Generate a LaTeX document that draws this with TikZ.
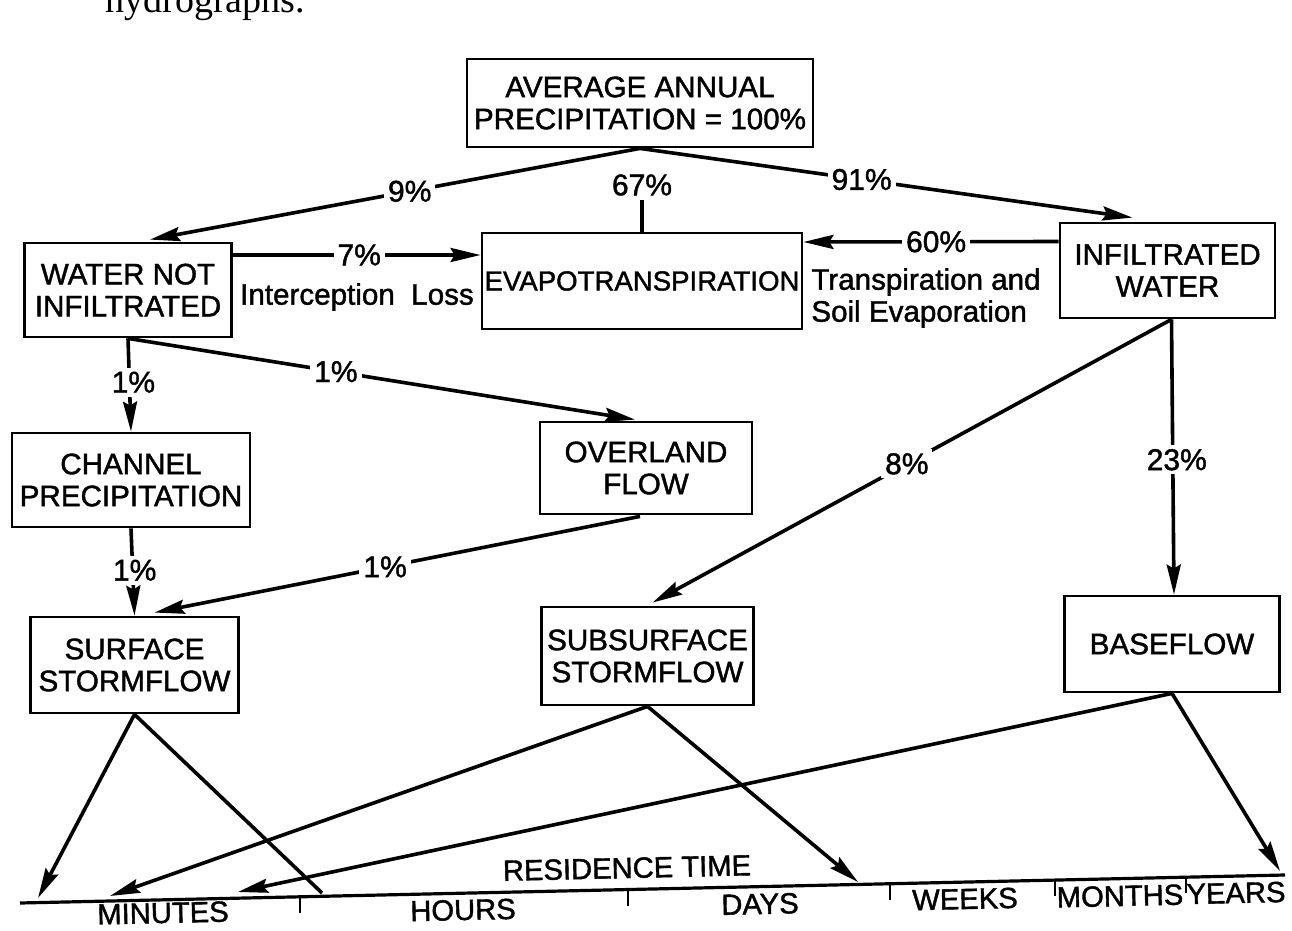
\documentclass[tikz,border=0pt]{standalone}
\usepackage{fontspec}
\setmainfont{Liberation Sans}[FakeBold=1.4]
\newfontfamily\hydfont{Liberation Serif}
\usetikzlibrary{arrows.meta}
\usetikzlibrary{calc}

\tikzset{
  box/.style={draw, line width=1.4pt, align=center, inner sep=0pt, font=\fontsize{14.8}{16}\selectfont},
  flow/.style={line width=1.8pt, -{Stealth[length=15pt,width=7pt,inset=2pt]}},
  lnk/.style={line width=1.8pt},
  pct/.style={fill=white, inner sep=2pt, font=\fontsize{15}{16}\selectfont},
  note/.style={inner sep=0.75pt, align=left, font=\fontsize{14.8}{16}\selectfont},
  tlabel/.style={inner sep=0.75pt, rotate=1.3, font=\fontsize{14.6}{16}\selectfont},
}

\begin{document}
\begin{tikzpicture}[x=0.5pt,y=0.5pt,yscale=-1,xscale=1]
\clip (0,0) rectangle (1292,931);
% Text Node (cut off line above the figure)
\draw (105,13) node [anchor=base west] [inner sep=0pt, font=\hydfont\fontsize{19}{20}\selectfont] (frag) {hydrographs.};
% Boxes
\draw (640,103) node [box, minimum width=173pt, minimum height=44pt] (avg) {AVERAGE ANNUAL\\PRECIPITATION = 100\%};
\draw (128,290) node [box, minimum width=103.5pt, minimum height=47pt] (wni) {WATER NOT\\INFILTRATED};
\draw (642,281) node [box, minimum width=160pt, minimum height=48pt, font=\fontsize{13.8}{16}\selectfont] (evap) {EVAPOTRANSPIRATION};
\draw (1167.5,270.5) node [box, minimum width=107.5pt, minimum height=47.5pt] (infil) {INFILTRATED\\WATER};
\draw (131,480) node [box, minimum width=119pt, minimum height=47pt] (chan) {CHANNEL\\PRECIPITATION};
\draw (646,468) node [box, minimum width=106pt, minimum height=46pt] (over) {OVERLAND\\FLOW};
\draw (134.5,665) node [box, minimum width=104pt, minimum height=48pt] (surf) {SURFACE\\STORMFLOW};
\draw (647.5,656) node [box, minimum width=106pt, minimum height=49pt] (subs) {SUBSURFACE\\STORMFLOW};
\draw (1172,644) node [box, minimum width=107.5pt, minimum height=48pt] (base) {BASEFLOW};

%Straight Lines from precipitation
\draw [flow] (avg.south) -- ($(wni.north)+(22,-2)$) node [pct, pos=0.47] (p9) {9\%};
\draw [flow] (avg.south) -- ($(infil.north)+(-35,-4)$) node [pct, pos=0.45] (p91) {91\%};
\draw (642,185) node [pct] (p67) {67\%};
\draw [lnk] (p67.south) -- (evap.north);
%Straight Lines to evapotranspiration
\draw [flow] ($(wni.east)+(0,-35)$) -- ($(evap.west)+(0,-26)$) node [pct, pos=0.51] (p7) {7\%};
\draw [flow] ($(infil.west)+(0,-29)$) -- ($(evap.east)+(0,-39)$) node [pct, pos=0.48] (p60) {60\%};
% Text Node
\draw (357,297) node [note] (intc) {Interception\ \ Loss};
% Text Node
\draw (926,298) node [note] (trans) {Transpiration and\\Soil Evaporation};

%Straight Lines from water not infiltrated
\draw [flow] (wni.south) -- (chan.north) node [pct, pos=0.47, xshift=2pt] (p1a) {1\%};
\draw [flow] (wni.south) -- ($(over.north)+(-11,-1)$) node [pct, pos=0.41] (p1b) {1\%};
\draw [flow] (chan.south) -- (surf.north) node [pct, pos=0.48, xshift=1pt] (p1c) {1\%};
\draw [flow] ($(over.south)+(-6,1)$) -- ($(surf.north)+(20,-3)$) node [pct, pos=0.525] (p1d) {1\%};

%Straight Lines from infiltrated water
\draw [flow] ($(infil.south)+(4,0)$) -- ($(subs.north)+(5,-3)$) node [pct, pos=0.51] (p8) {8\%};
\draw [flow] ($(infil.south)+(4,0)$) -- ($(base.north)+(2,0)$) node [pct, pos=0.51, xshift=2pt] (p23) {23\%};

% Residence time scale
\coordinate (axL) at (20,903);
\coordinate (axR) at (1285,875);
\draw [line width=1.6pt] (axL) -- (axR);
\foreach \tx [evaluate=\tx as \tf using (\tx-20)/1265] in {300,628,890,1055,1186}
  \draw [line width=1pt] ($(axL)!\tf!(axR)$) -- ++(0,16);
\coordinate (mA) at (38,898);
\coordinate (mB) at (110,896);
\coordinate (mC) at (238,892);
\coordinate (hX) at (322,893);
\coordinate (dA) at (858,882);
\coordinate (yA) at (1280,871);
%Straight Lines to the scale
\draw [flow] (surf.south) -- (mA);
\draw [lnk] (surf.south) -- (hX);
\draw [flow] (subs.south) -- (mB);
\draw [flow] (subs.south) -- (dA);
\draw [flow] (base.south) -- (mC);
\draw [flow] (base.south) -- (yA);
% Text Nodes
\draw (627,868) node [tlabel] (rt) {RESIDENCE TIME};
\draw (163,913) node [tlabel] (tmin) {MINUTES};
\draw (463,910) node [tlabel] (thrs) {HOURS};
\draw (760,904) node [tlabel] (tday) {DAYS};
\draw (965,899) node [tlabel] (twk) {WEEKS};
\draw (1120,896) node [tlabel] (tmon) {MONTHS};
\draw (1236,893) node [tlabel] (tyr) {YEARS};
\end{tikzpicture}
\end{document}
